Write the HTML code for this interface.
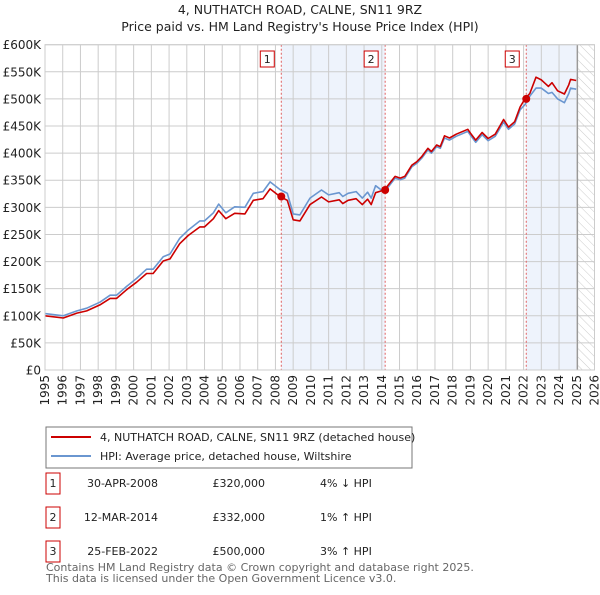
<!DOCTYPE html>
<html><head><meta charset="utf-8"><style>
body{margin:0;background:#fff;font-family:"Liberation Sans","DejaVu Sans",sans-serif;}
svg text{font-family:"DejaVu Sans","Liberation Sans",sans-serif;}
</style></head><body>
<svg id="c" width="600" height="590" xmlns="http://www.w3.org/2000/svg"></svg>
<script>
const years=[1995,1996.03,1996.8,1997.35,1998.1,1998.67,1999.04,1999.6,2000.17,2000.73,2001.1,2001.67,2002.05,2002.6,2003.08,2003.74,2004,2004.5,2004.8,2005.2,2005.7,2006.28,2006.75,2007.3,2007.7,2008.25,2008.67,2009,2009.38,2009.95,2010.6,2011,2011.6,2011.8,2012.1,2012.55,2012.9,2013.2,2013.4,2013.65,2014.14,2014.75,2015.04,2015.3,2015.7,2015.97,2016.26,2016.6,2016.8,2017.1,2017.3,2017.54,2017.82,2018.2,2018.85,2019,2019.3,2019.66,2020,2020.4,2020.87,2021.15,2021.5,2021.8,2022.09,2022.35,2022.7,2023,2023.2,2023.4,2023.6,2023.92,2024.3,2024.55,2024.65,2024.97];
const hpiValues=[104,100,109,114,125,138,138,154,169,186,186,209,214,243,258,275,275,290,306,290,301,300,326,329,347,333,326,288,286,317,332,323,327,320,326,329,317,328,317,340,328,354,351,354,375,381,391,406,400,412,409,428,424,431,440,433,420,434,423,431,457,444,454,480,490,505,520,520,515,510,512,500,493,510,520,518];
const priceValues=[100,96,105,109,120,132,132,148,162,178,178,201,205,233,248,264,264,279,294,279,289,288,313,316,334,320,313,277,275,305,319,310,314,307,313,316,305,315,305,327,332,357,354,357,378,384,394,409,403,415,412,432,428,435,444,437,424,438,427,435,462,448,458,485,501,510,540,535,529,523,530,515,509,526,536,534];
const saleYears=[2008.33,2014.19,2022.15];
const saleValues=[320,332,500];
const saleLabels=["1","2","3"];
const yTicks=[0,50,100,150,200,250,300,350,400,450,500,550,600];
const yTickLabels=["£0","£50K","£100K","£150K","£200K","£250K","£300K","£350K","£400K","£450K","£500K","£550K","£600K"];
const xTicks=[1995,1996,1997,1998,1999,2000,2001,2002,2003,2004,2005,2006,2007,2008,2009,2010,2011,2012,2013,2014,2015,2016,2017,2018,2019,2020,2021,2022,2023,2024,2025,2026];

const L=45,R=594.5,T=44.7,B=370;
const X=y=>L+(y-1995)/31*(R-L);
const Y=v=>B-v/600*(B-T);
const svg=document.getElementById('c');
const NS='http://www.w3.org/2000/svg';
function mk(tag,attrs,parent){const e=document.createElementNS(NS,tag);for(const k in attrs)e.setAttribute(k,attrs[k]);(parent||svg).appendChild(e);return e;}
const defs=mk('defs',{});
const pat=mk('pattern',{id:'h',width:6,height:6,patternUnits:'userSpaceOnUse',patternTransform:'rotate(-45)'},defs);
mk('line',{x1:0,y1:0,x2:0,y2:6,stroke:'#ccc','stroke-width':1},pat);
let t=mk('text',{x:300,y:14,'text-anchor':'middle','font-size':12.5,fill:'#222'});t.textContent='4, NUTHATCH ROAD, CALNE, SN11 9RZ';

t=mk('text',{x:300,y:31,'text-anchor':'middle','font-size':12.5,fill:'#222'});t.textContent="Price paid vs. HM Land Registry's House Price Index (HPI)";

let r=mk('rect',{x:X(saleYears[0]),y:T,width:X(saleYears[1])-X(saleYears[0]),height:B-T,fill:'#eef3fc'});

r=mk('rect',{x:X(saleYears[2]),y:T,width:X(2025.04)-X(saleYears[2]),height:B-T,fill:'#eef3fc'});

r=mk('rect',{x:X(2025.04),y:T,width:R-X(2025.04),height:B-T,fill:'url(#h)'});

yTicks.forEach((v,i)=>{
 const l=mk('line',{x1:L,x2:R,y1:Y(v),y2:Y(v),stroke:'#ccc','stroke-width':1});
 
 const tx=mk('text',{x:L-4,y:Y(v)+4.5,'text-anchor':'end','font-size':12,fill:'#222'});tx.textContent=yTickLabels[i];
 
});
xTicks.forEach(y=>{
 const l=mk('line',{x1:X(y),x2:X(y),y1:T,y2:B,stroke:'#ccc','stroke-width':1});
 
 const tx=mk('text',{x:X(y)+4,y:B+5,'text-anchor':'end','font-size':12,fill:'#222',transform:`rotate(-90 ${X(y)+4} ${B+5})`});tx.textContent=y;
 
});
let vl=mk('line',{x1:X(2025.04),x2:X(2025.04),y1:T,y2:B,stroke:'#999','stroke-width':1.2});

saleYears.forEach((s,i)=>{
 const l=mk('line',{x1:X(s),x2:X(s),y1:T,y2:B,stroke:'#e06060','stroke-width':1,'stroke-dasharray':'2,2'});
 
 const g=mk('g',{});
 
 mk('rect',{x:X(s)-21,y:51,width:14,height:16,fill:'#fff',stroke:'#cc0000','stroke-width':1},g);
 const tx=mk('text',{x:X(s)-14,y:63,'text-anchor':'middle','font-size':11,fill:'#222'},g);tx.textContent=saleLabels[i];
});
function path(vals,color,name){
 const d=years.map((y,i)=>(i?'L':'M')+X(y).toFixed(1)+','+Y(vals[i]).toFixed(1)).join('');
 const p=mk('path',{d:d,fill:'none',stroke:color,'stroke-width':1.6,'stroke-linejoin':'round'});
 
}
path(hpiValues,'#6a96d0','hpi-line');
path(priceValues,'#cc0000','price-paid-line');
saleYears.forEach((s,i)=>{
 const c=mk('circle',{cx:X(s),cy:Y(saleValues[i]),r:4,fill:'#cc0000'});
 
});
let bd=mk('rect',{x:L,y:T,width:R-L,height:B-T,fill:'none',stroke:'#ccc'});

const lg=mk('g',{});
mk('rect',{x:46,y:427,width:366,height:41,fill:'#fff',stroke:'#777'},lg);
mk('line',{x1:51,x2:91,y1:437,y2:437,stroke:'#cc0000','stroke-width':2},lg);
mk('line',{x1:51,x2:91,y1:456,y2:456,stroke:'#6a96d0','stroke-width':2},lg);
t=mk('text',{x:100,y:441,'font-size':11,fill:'#222'},lg);t.textContent='4, NUTHATCH ROAD, CALNE, SN11 9RZ (detached house)';
t=mk('text',{x:100,y:460,'font-size':11,fill:'#222'},lg);t.textContent='HPI: Average price, detached house, Wiltshire';
const dates=["30-APR-2008","12-MAR-2014","25-FEB-2022"];
const prices=["£320,000","£332,000","£500,000"];
const rel=["4% ↓ HPI","1% ↑ HPI","3% ↑ HPI"];
dates.forEach((d,i)=>{
 const y=483+i*34;
 const g=mk('g',{});
 mk('rect',{x:46,y:y-10,width:14,height:21,fill:'#fff',stroke:'#cc0000'},g);
 let tx=mk('text',{x:53,y:y+4,'text-anchor':'middle','font-size':11,fill:'#222'},g);tx.textContent=saleLabels[i];
 tx=mk('text',{x:158,y:y+4,'text-anchor':'end','font-size':11,fill:'#222'},g);tx.textContent=d;
 tx=mk('text',{x:265,y:y+4,'text-anchor':'end','font-size':11,fill:'#222'},g);tx.textContent=prices[i];
 tx=mk('text',{x:320,y:y+4,'font-size':11,fill:'#222'},g);tx.textContent=rel[i];
});
t=mk('text',{x:46,y:571,'font-size':11,fill:'#666'});t.textContent='Contains HM Land Registry data © Crown copyright and database right 2025.';

t=mk('text',{x:46,y:582,'font-size':11,fill:'#666'});t.textContent='This data is licensed under the Open Government Licence v3.0.';

</script>
</body></html>
